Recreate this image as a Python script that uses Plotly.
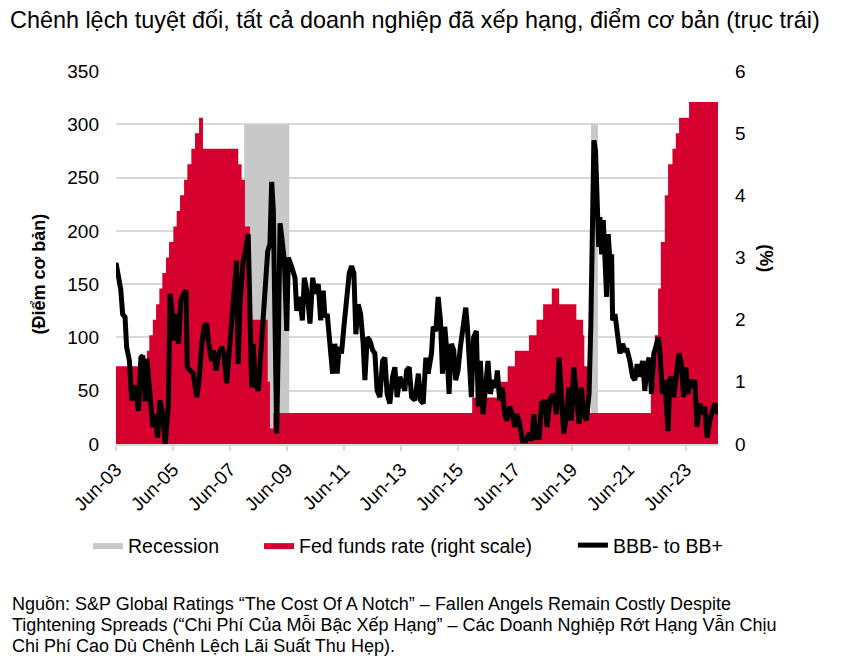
import plotly.graph_objs as go

# spread BBB- to BB+ (bp)
SPREAD_DATES = [
    "2003-06-01", "2003-07-01", "2003-08-01", "2003-08-25", "2003-09-25", "2003-10-15", "2003-11-20", "2003-12-20",
    "2004-02-01", "2004-03-15", "2004-04-15", "2004-05-10", "2004-06-10", "2004-07-01", "2004-08-10", "2004-09-15",
    "2004-10-15", "2004-11-15", "2004-12-15", "2005-01-20", "2005-02-20", "2005-04-01", "2005-04-25", "2005-05-15",
    "2005-06-15", "2005-07-10", "2005-08-10", "2005-09-10", "2005-10-15", "2005-11-15", "2005-12-01", "2006-01-15",
    "2006-02-15", "2006-04-01", "2006-05-01", "2006-06-05", "2006-07-05", "2006-08-05", "2006-09-01", "2006-10-10",
    "2006-11-01", "2006-12-05", "2007-01-10", "2007-02-15", "2007-03-15", "2007-04-20", "2007-06-01", "2007-07-13",
    "2007-08-25", "2007-09-15", "2007-10-07", "2007-11-18", "2007-12-18", "2008-01-21", "2008-02-12", "2008-03-05",
    "2008-03-26", "2008-04-17", "2008-05-29", "2008-07-12", "2008-08-23", "2008-09-27", "2008-10-26", "2008-11-17",
    "2008-12-08", "2008-12-30", "2009-01-20", "2009-02-10", "2009-03-04", "2009-03-26", "2009-04-28", "2009-05-29",
    "2009-06-18", "2009-08-01", "2009-09-12", "2009-10-04", "2009-11-15", "2009-12-15", "2010-01-10", "2010-02-17",
    "2010-03-23", "2010-04-27", "2010-05-26", "2010-07-07", "2010-08-07", "2010-09-09", "2010-10-01", "2010-10-30",
    "2010-12-03", "2011-01-07", "2011-02-05", "2011-03-07", "2011-04-01", "2011-05-01", "2011-06-01", "2011-07-05",
    "2011-08-08", "2011-09-07", "2011-10-07", "2011-11-01", "2011-12-01", "2012-01-01", "2012-02-03", "2012-02-25",
    "2012-03-26", "2012-04-29", "2012-06-03", "2012-07-02", "2012-07-31", "2012-09-04", "2012-10-09", "2012-11-07",
    "2012-12-06", "2013-01-10", "2013-02-14", "2013-03-15", "2013-04-13", "2013-05-18", "2013-06-22", "2013-07-21",
    "2013-08-13", "2013-09-15", "2013-10-16", "2013-11-28", "2014-01-10", "2014-02-08", "2014-03-13", "2014-04-17",
    "2014-05-16", "2014-06-28", "2014-07-19", "2014-08-23", "2014-09-21", "2014-10-21", "2014-11-16", "2014-12-15",
    "2015-01-13", "2015-02-08", "2015-03-10", "2015-04-09", "2015-05-04", "2015-06-03", "2015-07-03", "2015-08-06",
    "2015-09-10", "2015-10-01", "2015-10-22", "2015-11-21", "2015-12-20", "2016-01-24", "2016-02-18", "2016-03-15",
    "2016-04-18", "2016-05-23", "2016-06-21", "2016-07-21", "2016-08-24", "2016-09-28", "2016-10-19", "2016-11-18",
    "2016-12-22", "2017-01-21", "2017-02-19", "2017-03-26", "2017-04-30", "2017-05-30", "2017-06-29", "2017-08-02",
    "2017-09-06", "2017-10-19", "2017-12-01", "2018-01-01", "2018-01-30", "2018-03-05", "2018-04-08", "2018-05-09",
    "2018-06-20", "2018-07-20", "2018-08-23", "2018-10-05", "2018-11-17", "2018-12-20", "2019-01-19", "2019-02-17",
    "2019-03-23", "2019-04-27", "2019-05-26", "2019-06-25", "2019-07-29", "2019-09-02", "2019-10-02", "2019-11-01",
    "2019-12-05", "2020-01-08", "2020-01-30", "2020-02-21", "2020-03-10", "2020-03-31", "2020-04-22", "2020-05-10",
    "2020-05-26", "2020-06-17", "2020-07-08", "2020-07-30", "2020-08-20", "2020-09-10", "2020-10-01", "2020-10-23",
    "2020-11-05", "2020-12-05", "2020-12-26", "2021-01-16", "2021-02-07", "2021-03-12", "2021-04-11", "2021-05-10",
    "2021-06-14", "2021-07-19", "2021-08-17", "2021-09-16", "2021-10-20", "2021-11-24", "2021-12-23", "2022-01-22",
    "2022-02-17", "2022-03-18", "2022-04-17", "2022-05-13", "2022-06-12", "2022-07-03", "2022-08-06", "2022-09-05",
    "2022-09-26", "2022-10-17", "2022-11-07", "2022-11-29", "2022-12-28", "2023-02-01", "2023-03-06", "2023-04-05",
    "2023-05-05", "2023-05-31", "2023-06-30", "2023-07-21", "2023-08-25", "2023-09-24", "2023-10-24", "2023-11-27",
    "2024-01-01", "2024-01-30", "2024-02-29", "2024-04-03", "2024-05-08", "2024-06-07", "2024-07-18",
]
SPREAD_BP = [
    170, 160, 145, 122, 119, 91, 78, 41,
    55, 31, 81, 83, 40, 80, 47, 16,
    28, 6, 41, 28, 0, 35, 141, 128,
    97, 122, 94, 135, 141, 144, 72, 69,
    66, 44, 60, 94, 110, 113, 94, 78,
    88, 69, 85, 91, 85, 57, 94, 138,
    172, 75, 131, 172, 181, 197, 125, 53,
    94, 57, 50, 94, 141, 181, 188, 246,
    219, 94, 10, 94, 207, 194, 172, 106,
    175, 166, 156, 125, 138, 116, 156, 141,
    113, 156, 141, 150, 116, 144, 119, 122,
    91, 66, 94, 66, 91, 85, 110, 141,
    160, 167, 160, 103, 131, 122, 94, 60,
    100, 97, 88, 85, 50, 44, 78, 81,
    47, 38, 63, 72, 44, 63, 57, 50,
    69, 72, 44, 41, 66, 41, 38, 81,
    66, 85, 110, 106, 138, 116, 66, 110,
    85, 47, 94, 88, 60, 69, 91, 110,
    128, 110, 78, 44, 100, 106, 35, 78,
    28, 60, 78, 47, 60, 53, 69, 41,
    53, 28, 22, 35, 28, 16, 28, 19,
    3, 3, 10, 3, 28, 6, 6, 38,
    41, 16, 41, 47, 28, 81, 35, 10,
    25, 53, 22, 72, 47, 19, 53, 28,
    22, 47, 110, 185, 285, 275, 228, 185,
    213, 178, 210, 160, 138, 197, 172, 178,
    116, 122, 110, 94, 85, 94, 88, 88,
    78, 63, 60, 75, 63, 78, 50, 75,
    81, 47, 85, 91, 100, 88, 47, 60,
    25, 12, 60, 63, 44, 66, 85, 75,
    44, 72, 47, 60, 53, 60, 16, 38,
    28, 35, 6, 22, 31, 38, 28,
]

# fed funds rate (%), step changes
FED_DATES = [
    "2003-06-01", "2004-07-01", "2004-08-01", "2004-09-15", "2004-10-27", "2004-12-08", "2005-01-15",
    "2005-03-03", "2005-04-11", "2005-06-05", "2005-07-18", "2005-08-30", "2005-10-21", "2005-12-02",
    "2006-01-22", "2006-03-10", "2006-05-01", "2006-06-20", "2007-09-15", "2007-10-28", "2007-12-10",
    "2008-02-12", "2008-09-27", "2008-10-26", "2008-12-08", "2015-12-01", "2016-11-20", "2017-02-28",
    "2017-06-01", "2017-11-28", "2018-03-05", "2018-05-29", "2018-09-17", "2018-12-20", "2019-07-29",
    "2019-10-24", "2019-11-08", "2020-01-18", "2022-03-10", "2022-04-30", "2022-06-11", "2022-07-16",
    "2022-09-05", "2022-10-17", "2022-12-12", "2023-01-24", "2023-03-07", "2023-07-13", "2024-07-18",
]
FED_RATE = [
    1.25, 1.5, 1.75, 2.0, 2.25, 2.5, 2.75,
    3.0, 3.25, 3.5, 3.75, 4.0, 4.25, 4.5,
    4.75, 5.0, 5.25, 4.75, 4.5, 4.25, 3.5,
    2.0, 1.0, 0.25, 0.5, 0.75, 1.0, 1.25,
    1.5, 1.75, 2.0, 2.25, 2.5, 2.25, 2.0,
    1.75, 1.25, 0.5, 1.0, 1.75, 2.5, 3.25,
    4.0, 4.5, 4.75, 5.0, 5.25, 5.5, 5.5,
]

REC_START = ["2007-12-01", "2020-02-01"]
REC_END = ["2009-06-30", "2020-04-30"]
REC_LEVEL = 300

X_RANGE = ["2003-06-01", "2024-07-18"]

NOTE_LINES = [
    "Nguồn: S&P Global Ratings “The Cost Of A Notch” – Fallen Angels Remain Costly Despite",
    "Tightening Spreads (“Chi Phí Của Mỗi Bậc Xếp Hạng” – Các Doanh Nghiệp Rớt Hạng Vẫn Chịu",
    "Chi Phí Cao Dù Chênh Lệch Lãi Suất Thu Hẹp).",
]

FONT = "Liberation Sans, Arial, sans-serif"
GRID = "#D9D9D9"
RED = "#D6002F"
GREY = "#C8C8C8"

# page body keeps its 8px margin, so the figure is 8px smaller than the window
W, H = 839, 656

rec_x, rec_y = [], []
for s, e in zip(REC_START, REC_END):
    rec_x += [s, s, e, e, None]
    rec_y += [0, REC_LEVEL, REC_LEVEL, 0, None]

traces = [
    go.Scatter(x=rec_x, y=rec_y, name="Recession", mode="lines", fill="toself",
               fillcolor=GREY, line=dict(width=0, color=GREY), yaxis="y", legend="legend",
               hoverinfo="skip"),
    go.Scatter(x=FED_DATES, y=FED_RATE, name="Fed funds rate (right scale)", mode="lines",
               line_shape="hv", fill="tozeroy", fillcolor=RED, line=dict(width=0, color=RED),
               yaxis="y2", legend="legend2"),
    go.Scatter(x=SPREAD_DATES, y=SPREAD_BP, name="BBB- to BB+", mode="lines",
               line=dict(width=5, color="black"), yaxis="y3", legend="legend3"),
]

note_ann = [
    dict(text=t, xref="paper", yref="paper", x=-0.176, y=y, xanchor="left", yanchor="middle",
         align="left", showarrow=False, font=dict(size=18))
    for t, y in zip(NOTE_LINES, [-0.428, -0.484, -0.541])
]

leg = dict(orientation="h", y=-0.272, yanchor="middle", xanchor="left",
           font=dict(size=19.5), bgcolor="rgba(0,0,0,0)", borderwidth=0)

layout = go.Layout(
    width=W, height=H,
    paper_bgcolor="white", plot_bgcolor="white",
    margin=dict(l=108, r=129, t=63, b=220, pad=0),
    font=dict(family=FONT, size=18, color="black"),
    title=dict(text="Chênh lệch tuyệt đối, tất cả doanh nghiệp đã xếp hạng, điểm cơ bản (trục trái)",
               x=2 / W, xanchor="left", xref="container", y=1 - 12 / H, yanchor="middle",
               yref="container", font=dict(size=23.4, family=FONT, color="black")),
    xaxis=dict(type="date", range=X_RANGE, tick0="2003-06-01", dtick="M24", tickformat="%b-%y",
               tickangle=-45, ticks="outside", ticklen=5, tickcolor=GRID, tickwidth=1.5,
               showline=True, linecolor=GRID, linewidth=2, showgrid=False, zeroline=False,
               tickfont=dict(size=19)),
    yaxis=dict(range=[0, 350], dtick=50, showgrid=True, gridcolor=GRID, gridwidth=1.5,
               zeroline=False, ticks="", ticklabelstandoff=16, tickfont=dict(size=19)),
    yaxis2=dict(range=[0, 6], dtick=1, overlaying="y", side="right", showgrid=False,
                zeroline=False, ticks="", ticklabelstandoff=16, tickfont=dict(size=19)),
    yaxis3=dict(range=[0, 350], overlaying="y", visible=False),
    legend=dict(leg, x=-0.0465),
    legend2=dict(leg, x=0.2375),
    legend3=dict(leg, x=0.759),
    showlegend=True,
    annotations=[
        dict(text="<b>(Điểm cơ bản)</b>", xref="paper", yref="paper", x=-0.128, y=0.457,
             xanchor="center", yanchor="middle", textangle=-90, showarrow=False,
             font=dict(size=18)),
        dict(text="<b>(%)</b>", xref="paper", yref="paper", x=1.0797, y=0.498,
             xanchor="center", yanchor="middle", textangle=90, showarrow=False,
             font=dict(size=18)),
    ] + note_ann,
)

fig = go.Figure(data=traces, layout=layout)
fig.write_html("out.html")
